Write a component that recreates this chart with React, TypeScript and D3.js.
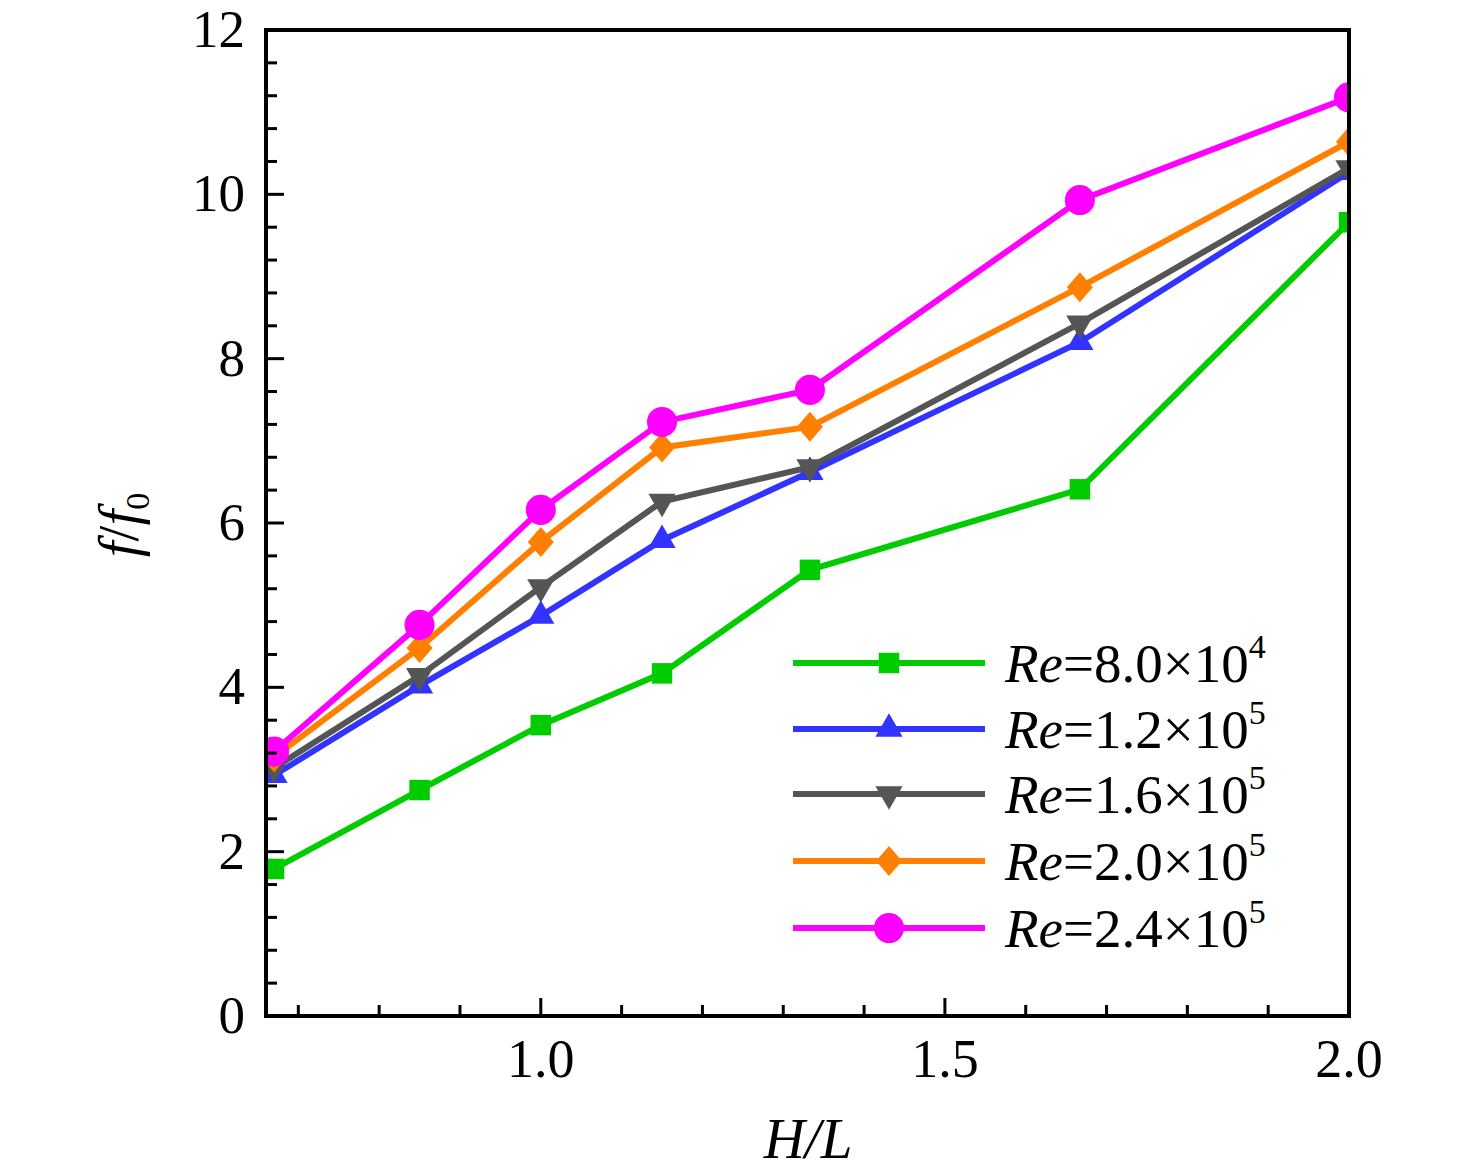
import React, { useEffect, useRef } from 'react';
import * as d3 from 'd3';

const hl = [0.67, 0.85, 1.0, 1.15, 1.333, 1.667, 2.0];

const re80 = [1.79, 2.75, 3.54, 4.17, 5.43, 6.41, 9.66];
const re120 = [2.93, 4.02, 4.87, 5.79, 6.62, 8.2, 10.27];
const re160 = [3.02, 4.14, 5.22, 6.26, 6.68, 8.43, 10.32];
const re200 = [3.15, 4.48, 5.77, 6.92, 7.17, 8.87, 10.64];
const re240 = [3.22, 4.76, 6.16, 7.23, 7.62, 9.93, 11.18];

const seriesNames = ['8.0', '1.2', '1.6', '2.0', '2.4'];
const seriesExp = ['4', '5', '5', '5', '5'];
const seriesValues = [re80, re120, re160, re200, re240];
const seriesColors = ['#00cc00', '#3333ff', '#555555', '#ff8000', '#ff00ff'];
const seriesMarkers = ['square', 'triangle', 'triangleDown', 'diamond', 'circle'];

const xMajor = [1.0, 1.5, 2.0];
const yMajor = [0, 2, 4, 6, 8, 10, 12];

export default function App() {
  const svgRef = useRef<SVGSVGElement>(null);

  useEffect(() => {
    document.body.style.margin = '0';
    if (!svgRef.current) return;
    const svg = d3.select(svgRef.current);
    svg.selectAll('*').remove();

    const left = 266, right = 1349, top = 30, bottom = 1016;
    const x = d3.scaleLinear().domain([0.66, 2.0]).range([left, right]);
    const y = d3.scaleLinear().domain([0, 12]).range([bottom, top]);
    const font = '"Liberation Serif", "Times New Roman", serif';

    svg.append('defs').append('clipPath').attr('id', 'plotclip')
      .append('rect').attr('x', left).attr('y', top)
      .attr('width', right - left).attr('height', bottom - top);

    const markerPath = (kind: string) => {
      switch (kind) {
        case 'square': return d3.symbol(d3.symbolSquare, 420)();
        case 'triangle': return d3.symbol(d3.symbolTriangle, 320)();
        case 'triangleDown': return d3.symbol(d3.symbolTriangle, 320)();
        case 'diamond': return 'M0,-15L13,0L0,15L-13,0Z';
        default: return d3.symbol(d3.symbolCircle, 710)();
      }
    };

    const plot = svg.append('g').attr('clip-path', 'url(#plotclip)');
    const line = d3.line<number>().x((_, i) => x(hl[i])).y(d => y(d));

    seriesValues.forEach((vals, s) => {
      const g = plot.append('g');
      g.append('path').attr('d', line(vals)!).attr('fill', 'none')
        .attr('stroke', seriesColors[s]).attr('stroke-width', 6);
      g.selectAll('path.m').data(vals).enter().append('path').attr('class', 'm')
        .attr('d', markerPath(seriesMarkers[s]))
        .attr('fill', seriesColors[s])
        .attr('transform', (d, i) => `translate(${x(hl[i])},${y(d)})${seriesMarkers[s] === 'triangleDown' ? ' rotate(180)' : ''}`);
    });

    // axes ticks (inside), frame on all four sides
    const ax = svg.append('g');
    const xMinor = d3.range(0.7, 2.0001, 0.1);
    xMinor.forEach(v => {
      const major = xMajor.some(m => Math.abs(m - v) < 1e-6);
      ax.append('line').attr('x1', x(v)).attr('x2', x(v))
        .attr('y1', bottom).attr('y2', bottom - (major ? 18 : 11))
        .attr('stroke', '#000').attr('stroke-width', 3);
    });
    const yMinor = d3.range(0, 12.0001, 0.4);
    yMinor.forEach(v => {
      const major = yMajor.some(m => Math.abs(m - v) < 1e-6);
      ax.append('line').attr('y1', y(v)).attr('y2', y(v))
        .attr('x1', left).attr('x2', left + (major ? 18 : 11))
        .attr('stroke', '#000').attr('stroke-width', 3);
    });
    ax.append('rect').attr('x', left).attr('y', top)
      .attr('width', right - left).attr('height', bottom - top)
      .attr('fill', 'none').attr('stroke', '#000').attr('stroke-width', 4);

    ax.selectAll('text.xt').data(xMajor).enter().append('text')
      .attr('x', d => x(d)).attr('y', bottom + 61)
      .attr('text-anchor', 'middle').attr('font-family', font).attr('font-size', 54)
      .text(d => d.toFixed(1));
    ax.selectAll('text.yt').data(yMajor).enter().append('text')
      .attr('x', left - 21).attr('y', d => y(d) + 17)
      .attr('text-anchor', 'end').attr('font-family', font).attr('font-size', 53)
      .text(d => String(d));

    // axis titles
    svg.append('text').attr('x', 808).attr('y', 1158)
      .attr('text-anchor', 'middle').attr('font-family', font).attr('font-size', 57)
      .attr('font-style', 'italic').text('H/L');

    const yt = svg.append('text').attr('transform', 'translate(138,525) rotate(-90)')
      .attr('text-anchor', 'middle').attr('font-family', font).attr('font-size', 57);
    yt.append('tspan').attr('font-style', 'italic').text('f');
    yt.append('tspan').text('/');
    yt.append('tspan').attr('font-style', 'italic').text('f');
    yt.append('tspan').attr('font-size', 34).attr('dy', 11).text('0');

    // legend
    const legY = [663, 729, 794, 861, 928];
    const leg = svg.append('g');
    seriesValues.forEach((_, s) => {
      const ly = legY[s];
      leg.append('line').attr('x1', 793).attr('x2', 985).attr('y1', ly).attr('y2', ly)
        .attr('stroke', seriesColors[s]).attr('stroke-width', 6);
      leg.append('path').attr('d', markerPath(seriesMarkers[s]))
        .attr('fill', seriesColors[s])
        .attr('transform', `translate(889,${ly})${seriesMarkers[s] === 'triangleDown' ? ' rotate(180)' : ''}`);
      const t = leg.append('text').attr('x', 1005).attr('y', ly + 19)
        .attr('font-family', font).attr('font-size', 55);
      t.append('tspan').attr('font-style', 'italic').text('Re');
      t.append('tspan').text(`=${seriesNames[s]}×10`);
      t.append('tspan').attr('font-size', 34).attr('dy', -24).text(seriesExp[s]);
    });
  }, []);

  return <svg ref={svgRef} width={1476} height={1175} style={{ display: 'block', background: '#fff' }} />;
}
